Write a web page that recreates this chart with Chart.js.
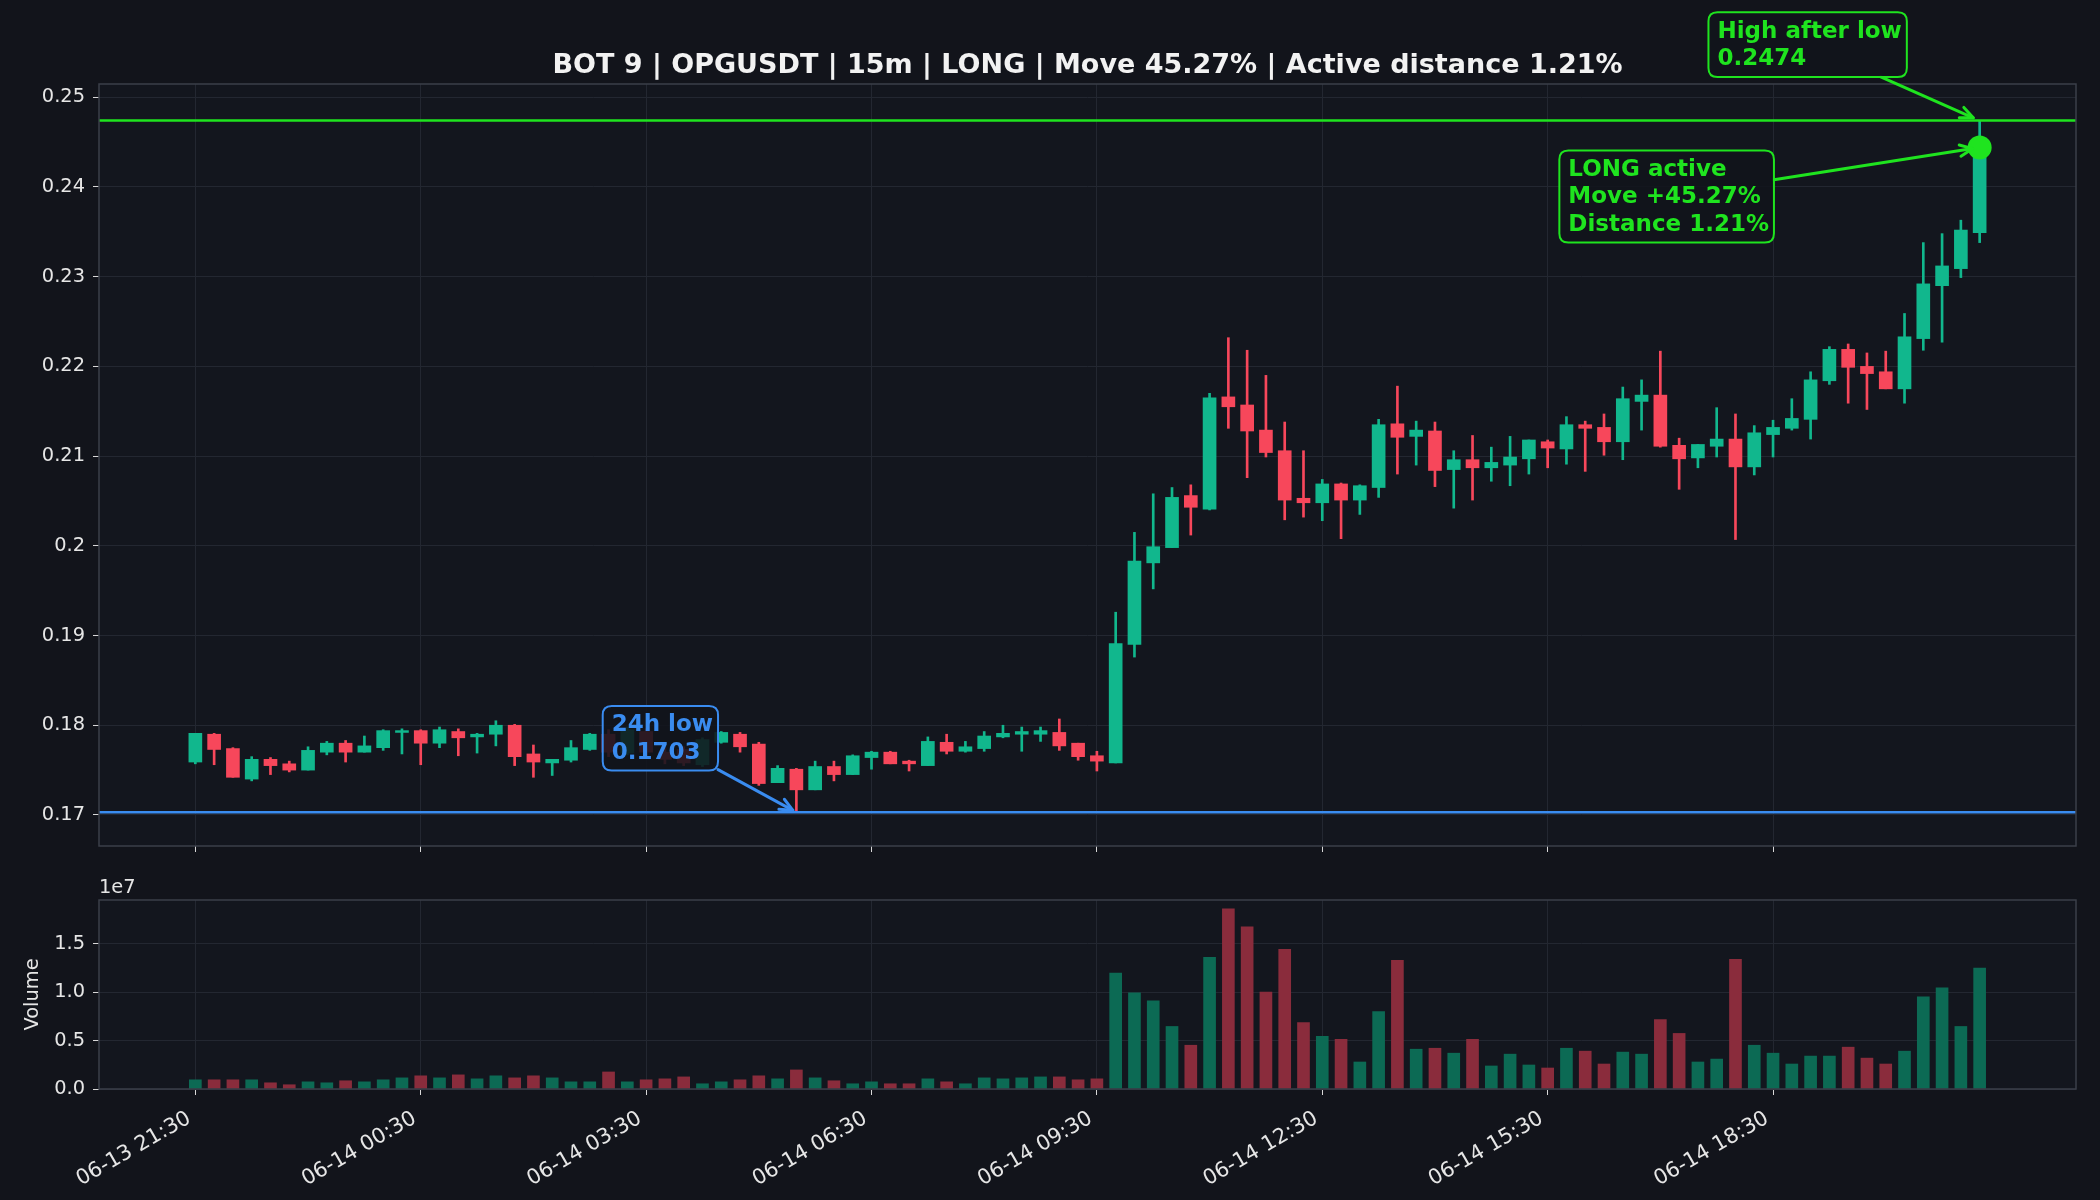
<!DOCTYPE html>
<html>
<head>
<meta charset="utf-8">
<script src="https://cdn.jsdelivr.net/npm/chart.js@4.4.1/dist/chart.umd.min.js"></script>
<style>
html, body { margin: 0; padding: 0; background: #12141b; }
#wrap { position: relative; width: 2100px; height: 1200px; }
canvas { position: absolute; left: 0; top: 0; }
</style>
</head>
<body>
<div id="wrap">
  <canvas id="price" width="2100" height="1200"></canvas>
  <canvas id="volume" width="2100" height="1200"></canvas>
</div>
<script>
// 15m candles, 06-13 21:30 .. 06-14 21:15
const opens = [
  0.1759, 0.1790, 0.1774, 0.1740, 0.1762, 0.1757, 0.1750, 0.1770, 0.1780, 0.1770,
  0.1775, 0.1792, 0.1794, 0.1780, 0.1793, 0.1787, 0.1790, 0.1800, 0.1768, 0.1758,
  0.1761, 0.1773, 0.1790, 0.1769, 0.1793, 0.1770, 0.1773, 0.1756, 0.1781, 0.1790,
  0.1779, 0.1736, 0.1751, 0.1728, 0.1754, 0.1745, 0.1764, 0.1770, 0.1760, 0.1755,
  0.1781, 0.1771, 0.1774, 0.1787, 0.1790, 0.1790, 0.1792, 0.1780, 0.1766, 0.1758,
  0.1890, 0.1981, 0.1998, 0.2056, 0.2041, 0.2166, 0.2157, 0.2129, 0.2106, 0.2053,
  0.2048, 0.2069, 0.2051, 0.2065, 0.2136, 0.2122, 0.2128, 0.2085, 0.2096, 0.2087,
  0.2090, 0.2097, 0.2116, 0.2108, 0.2135, 0.2132, 0.2116, 0.2161, 0.2168, 0.2112,
  0.2098, 0.2111, 0.2119, 0.2088, 0.2124, 0.2131, 0.2141, 0.2184, 0.2219, 0.2200,
  0.2194, 0.2175, 0.2231, 0.2290, 0.2309, 0.2349
];
const highs = [
  0.1791, 0.1791, 0.1775, 0.1765, 0.1764, 0.1760, 0.1776, 0.1782, 0.1783, 0.1788,
  0.1795, 0.1796, 0.1795, 0.1798, 0.1796, 0.1791, 0.1805, 0.1801, 0.1778, 0.1762,
  0.1783, 0.1791, 0.1795, 0.1798, 0.1796, 0.1775, 0.1776, 0.1786, 0.1793, 0.1792,
  0.1781, 0.1755, 0.1752, 0.1760, 0.1760, 0.1767, 0.1771, 0.1771, 0.1761, 0.1787,
  0.1790, 0.1782, 0.1793, 0.1800, 0.1798, 0.1798, 0.1807, 0.1780, 0.1771, 0.1926,
  0.2015, 0.2058, 0.2065, 0.2068, 0.2170, 0.2232, 0.2218, 0.2190, 0.2138, 0.2106,
  0.2074, 0.2070, 0.2068, 0.2141, 0.2178, 0.2139, 0.2138, 0.2106, 0.2123, 0.2110,
  0.2122, 0.2118, 0.2118, 0.2144, 0.2139, 0.2147, 0.2177, 0.2185, 0.2217, 0.2120,
  0.2113, 0.2154, 0.2147, 0.2134, 0.2140, 0.2164, 0.2194, 0.2222, 0.2225, 0.2215,
  0.2217, 0.2259, 0.2338, 0.2348, 0.2363, 0.2474
];
const lows = [
  0.1757, 0.1756, 0.1742, 0.1738, 0.1745, 0.1748, 0.1750, 0.1767, 0.1759, 0.1770,
  0.1772, 0.1768, 0.1756, 0.1775, 0.1766, 0.1769, 0.1777, 0.1755, 0.1742, 0.1744,
  0.1759, 0.1772, 0.1765, 0.1767, 0.1766, 0.1757, 0.1755, 0.1754, 0.1780, 0.1770,
  0.1733, 0.1736, 0.1703, 0.1728, 0.1738, 0.1745, 0.1751, 0.1757, 0.1749, 0.1755,
  0.1768, 0.1770, 0.1771, 0.1786, 0.1771, 0.1782, 0.1772, 0.1761, 0.1749, 0.1758,
  0.1876, 0.1952, 0.1998, 0.2012, 0.2040, 0.2131, 0.2076, 0.2099, 0.2029, 0.2032,
  0.2028, 0.2008, 0.2035, 0.2054, 0.2080, 0.2090, 0.2066, 0.2042, 0.2051, 0.2072,
  0.2067, 0.2080, 0.2087, 0.2091, 0.2083, 0.2101, 0.2096, 0.2129, 0.2110, 0.2063,
  0.2087, 0.2099, 0.2007, 0.2079, 0.2099, 0.2129, 0.2119, 0.2180, 0.2159, 0.2152,
  0.2175, 0.2159, 0.2218, 0.2227, 0.2299, 0.2338
];
const closes = [
  0.1791, 0.1773, 0.1742, 0.1762, 0.1755, 0.1750, 0.1772, 0.1780, 0.1770, 0.1777,
  0.1794, 0.1794, 0.1780, 0.1795, 0.1786, 0.1790, 0.1800, 0.1765, 0.1759, 0.1762,
  0.1775, 0.1790, 0.1770, 0.1795, 0.1770, 0.1762, 0.1758, 0.1784, 0.1792, 0.1776,
  0.1735, 0.1752, 0.1728, 0.1754, 0.1745, 0.1766, 0.1770, 0.1757, 0.1757, 0.1782,
  0.1771, 0.1776, 0.1788, 0.1791, 0.1793, 0.1794, 0.1777, 0.1765, 0.1760, 0.1891,
  0.1983, 0.1999, 0.2054, 0.2043, 0.2165, 0.2155, 0.2128, 0.2104, 0.2051, 0.2048,
  0.2069, 0.2051, 0.2067, 0.2135, 0.2121, 0.2129, 0.2084, 0.2096, 0.2087, 0.2093,
  0.2099, 0.2118, 0.2109, 0.2135, 0.2131, 0.2116, 0.2164, 0.2168, 0.2111, 0.2097,
  0.2113, 0.2119, 0.2088, 0.2126, 0.2132, 0.2142, 0.2185, 0.2219, 0.2199, 0.2192,
  0.2175, 0.2233, 0.2292, 0.2312, 0.2352, 0.2444
];
// volume, millions
const volumeM = [
  0.95, 0.95, 0.95, 0.95, 0.64, 0.44, 0.74, 0.64, 0.85, 0.74,
  0.95, 1.15, 1.36, 1.15, 1.46, 1.05, 1.36, 1.15, 1.36, 1.15,
  0.74, 0.74, 1.76, 0.74, 0.95, 1.05, 1.25, 0.54, 0.74, 0.95,
  1.36, 1.05, 1.97, 1.15, 0.85, 0.54, 0.74, 0.54, 0.54, 1.05,
  0.74, 0.54, 1.15, 1.05, 1.15, 1.25, 1.25, 0.95, 1.05, 11.97,
  9.93, 9.11, 6.46, 4.52, 13.60, 18.60, 16.76, 10.00, 14.42, 6.87,
  5.44, 5.13, 2.79, 7.99, 13.30, 4.11, 4.21, 3.70, 5.13, 2.38,
  3.60, 2.48, 2.17, 4.21, 3.91, 2.58, 3.81, 3.60, 7.17, 5.74,
  2.79, 3.09, 13.40, 4.52, 3.70, 2.58, 3.40, 3.40, 4.32, 3.19,
  2.58, 3.91, 9.52, 10.44, 6.46, 12.48
];
const xTickIdx = [0, 12, 24, 36, 48, 60, 72, 84];
const xTickLabels = ['06-13 21:30', '06-14 00:30', '06-14 03:30', '06-14 06:30',
                     '06-14 09:30', '06-14 12:30', '06-14 15:30', '06-14 18:30'];
const priceTicks = [0.17, 0.18, 0.19, 0.20, 0.21, 0.22, 0.23, 0.24, 0.25];
const volumeTicksM = [0, 5, 10, 15];

const lowIdx = 32, low24h = 0.1703;
const highIdx = 95, highAfterLow = 0.2474;
const activeIdx = 95;

const TITLE = 'BOT 9 | OPGUSDT | 15m | LONG | Move 45.27% | Active distance 1.21%';
const X_MIN = -5.13, X_MAX = 100.13;

const GREEN = '#11b78d', RED = '#f7475b';
const VGREEN = '#0c6a54', VRED = '#8a2c3c';
const LIME = '#1fe41f', BLUE = '#3a8cf0';
const AX_BG = '#13161e', GRID = '#232731', EDGE = '#3b3f4a', TXT = '#e6e6e6';
const FONT = '"DejaVu Sans", sans-serif';

Chart.defaults.font.family = FONT;
Chart.defaults.animation = false;

const idx = opens.map((_, i) => i);
const candleColor = idx.map(i => closes[i] >= opens[i] ? GREEN : RED);
const volColor = idx.map(i => closes[i] >= opens[i] ? VGREEN : VRED);

function fixWidth(w) { return s => { s.width = w; }; }
function fixHeight(h) { return s => { s.height = h; }; }

function axesFrame(ctx, a) {
  ctx.save();
  ctx.strokeStyle = EDGE;
  ctx.lineWidth = 1.5;
  ctx.strokeRect(a.left, a.top, a.right - a.left, a.bottom - a.top);
  ctx.restore();
}

const bgPlugin = {
  id: 'axbg',
  beforeDraw(chart) {
    const a = chart.chartArea, ctx = chart.ctx;
    ctx.save();
    ctx.fillStyle = AX_BG;
    ctx.fillRect(a.left, a.top, a.right - a.left, a.bottom - a.top);
    ctx.restore();
  }
};

function roundRect(ctx, x, y, w, h, r) {
  ctx.beginPath();
  ctx.moveTo(x + r, y);
  ctx.lineTo(x + w - r, y);
  ctx.quadraticCurveTo(x + w, y, x + w, y + r);
  ctx.lineTo(x + w, y + h - r);
  ctx.quadraticCurveTo(x + w, y + h, x + w - r, y + h);
  ctx.lineTo(x + r, y + h);
  ctx.quadraticCurveTo(x, y + h, x, y + h - r);
  ctx.lineTo(x, y + r);
  ctx.quadraticCurveTo(x, y, x + r, y);
  ctx.closePath();
}

// text box + arrow, box centre given as pixel offset from the target point
function note(chart, n) {
  const ctx = chart.ctx;
  const tx = chart.scales.x.getPixelForValue(n.x);
  const ty = chart.scales.y.getPixelForValue(n.y);
  const cx = tx + n.dx, cy = ty + n.dy;
  const fs = 23, lh = 27.6, pad = 7;
  ctx.save();
  ctx.font = 'bold ' + fs + 'px ' + FONT;
  const w = Math.max(...n.lines.map(l => ctx.measureText(l).width));
  const h = (n.lines.length - 1) * lh + fs;
  const bw = w + 2 * pad, bh = h + 2 * pad;
  const bx = cx - bw / 2, by = cy - bh / 2;

  const dx = tx - cx, dy = ty - cy;
  const t = Math.min(dx ? (bw / 2) / Math.abs(dx) : Infinity, dy ? (bh / 2) / Math.abs(dy) : Infinity);
  const sx = cx + dx * t, sy = cy + dy * t;
  const len = Math.hypot(dx, dy);
  const ex = tx - dx / len * n.shrink, ey = ty - dy / len * n.shrink;
  ctx.strokeStyle = n.color;
  ctx.lineWidth = 3;
  ctx.lineCap = 'round';
  ctx.lineJoin = 'round';
  ctx.beginPath(); ctx.moveTo(sx, sy); ctx.lineTo(ex, ey); ctx.stroke();
  const ang = Math.atan2(ey - sy, ex - sx), hl = 14, ha = 0.42;
  ctx.beginPath();
  ctx.moveTo(ex - hl * Math.cos(ang - ha), ey - hl * Math.sin(ang - ha));
  ctx.lineTo(ex, ey);
  ctx.lineTo(ex - hl * Math.cos(ang + ha), ey - hl * Math.sin(ang + ha));
  ctx.stroke();

  roundRect(ctx, bx, by, bw, bh, 9);
  ctx.fillStyle = 'rgba(17,20,27,0.88)';
  ctx.fill();
  ctx.lineWidth = 2;
  ctx.stroke();

  ctx.fillStyle = n.color;
  ctx.textAlign = 'left';
  ctx.textBaseline = 'middle';
  n.lines.forEach((l, k) => {
    ctx.fillText(l, bx + pad + 2, cy - (n.lines.length - 1) * lh / 2 + k * lh + 1);
  });
  ctx.restore();
}

const pricePlugin = {
  id: 'priceDeco',
  afterDraw(chart) {
    const ctx = chart.ctx, a = chart.chartArea;
    axesFrame(ctx, a);
    ctx.save();
    ctx.fillStyle = '#f2f2f2';
    ctx.font = 'bold 27px ' + FONT;
    ctx.textAlign = 'center';
    ctx.textBaseline = 'middle';
    ctx.fillText(TITLE, (a.left + a.right) / 2, 66);
    ctx.restore();
    note(chart, { x: lowIdx, y: low24h, dx: -136, dy: -74, shrink: 4, color: BLUE,
                  lines: ['24h low', low24h.toFixed(4)] });
    note(chart, { x: highIdx, y: highAfterLow, dx: -172, dy: -76, shrink: 7, color: LIME,
                  lines: ['High after low', highAfterLow.toFixed(4)] });
    note(chart, { x: activeIdx, y: closes[activeIdx], dx: -313, dy: 49, shrink: 7, color: LIME,
                  lines: ['LONG active', 'Move +45.27%', 'Distance 1.21%'] });
  }
};

const volPlugin = {
  id: 'volDeco',
  afterDraw(chart) {
    const ctx = chart.ctx, a = chart.chartArea, xs = chart.scales.x;
    axesFrame(ctx, a);
    ctx.save();
    ctx.fillStyle = TXT;
    ctx.font = '19.4px ' + FONT;
    ctx.textAlign = 'left';
    ctx.textBaseline = 'bottom';
    ctx.fillText('1e7', a.left, a.top - 2);
    // rotated time labels, right end anchored just left of the tick
    ctx.font = '21px ' + FONT;
    ctx.textAlign = 'right';
    ctx.textBaseline = 'middle';
    xTickIdx.forEach((v, k) => {
      ctx.save();
      ctx.translate(xs.getPixelForValue(v) - 6, a.bottom + 28);
      ctx.rotate(-Math.PI / 6);
      ctx.fillText(xTickLabels[k], 0, 0);
      ctx.restore();
    });
    ctx.font = '19.4px ' + FONT;
    ctx.translate(33, (a.top + a.bottom) / 2);
    ctx.rotate(-Math.PI / 2);
    ctx.textAlign = 'center';
    ctx.textBaseline = 'middle';
    ctx.fillText('Volume', 0, 0);
    ctx.restore();
  }
};

function xScale(h) {
  return {
    type: 'linear', min: X_MIN, max: X_MAX, offset: false,
    afterBuildTicks: s => { s.ticks = xTickIdx.map(v => ({ value: v })); },
    afterFit: fixHeight(h),
    grid: { color: GRID, tickColor: '#d8d8d8', tickLength: 6, offset: false },
    border: { display: false },
    ticks: { display: false }
  };
}

new Chart(document.getElementById('price'), {
  type: 'bar',
  data: {
    datasets: [
      { type: 'line', data: [{ x: X_MIN, y: highAfterLow }, { x: X_MAX, y: highAfterLow }],
        borderColor: LIME, borderWidth: 2.5, pointRadius: 0, order: 1 },
      { type: 'line', data: [{ x: X_MIN, y: low24h }, { x: X_MAX, y: low24h }],
        borderColor: BLUE, borderWidth: 2.5, pointRadius: 0, order: 1 },
      { type: 'line', data: [{ x: activeIdx, y: closes[activeIdx] }], showLine: false,
        pointRadius: 12, pointBackgroundColor: LIME, pointBorderWidth: 0, order: 0 },
      { data: idx.map(i => ({ x: i, y: [opens[i], closes[i]] })), backgroundColor: candleColor,
        barThickness: 13, grouped: false, borderWidth: 0, order: 2 },
      { data: idx.map(i => ({ x: i, y: [lows[i], highs[i]] })), backgroundColor: candleColor,
        barThickness: 2, grouped: false, borderWidth: 0, order: 3 }
    ]
  },
  options: {
    responsive: false,
    events: [],
    layout: { padding: { left: 0, right: 24, top: 84, bottom: 1200 - 846 - 10 } },
    plugins: { legend: { display: false }, tooltip: { enabled: false } },
    scales: {
      x: xScale(10),
      y: {
        min: 0.16654, max: 0.25148,
        afterBuildTicks: s => { s.ticks = priceTicks.map(v => ({ value: v })); },
        afterFit: fixWidth(99),
        grid: { color: GRID, tickColor: '#d8d8d8', tickLength: 6 },
        border: { display: false },
        ticks: { color: TXT, font: { size: 19.4 }, padding: 8,
                 callback: v => String(Number(v.toFixed(2))) }
      }
    }
  },
  plugins: [bgPlugin, pricePlugin]
});

new Chart(document.getElementById('volume'), {
  type: 'bar',
  data: {
    datasets: [
      { data: idx.map(i => ({ x: i, y: volumeM[i] })), backgroundColor: volColor,
        barThickness: 12, borderWidth: 0 }
    ]
  },
  options: {
    responsive: false,
    events: [],
    layout: { padding: { left: 0, right: 24, top: 900, bottom: 0 } },
    plugins: { legend: { display: false }, tooltip: { enabled: false } },
    scales: {
      x: xScale(1200 - 1089),
      y: {
        min: 0, max: 19.52,
        afterBuildTicks: s => { s.ticks = volumeTicksM.map(v => ({ value: v })); },
        afterFit: fixWidth(99),
        grid: { color: GRID, tickColor: '#d8d8d8', tickLength: 6 },
        border: { display: false },
        ticks: { color: TXT, font: { size: 19.4 }, padding: 8,
                 callback: v => (v / 10).toFixed(1) }
      }
    }
  },
  plugins: [bgPlugin, volPlugin]
});
</script>
</body>
</html>
